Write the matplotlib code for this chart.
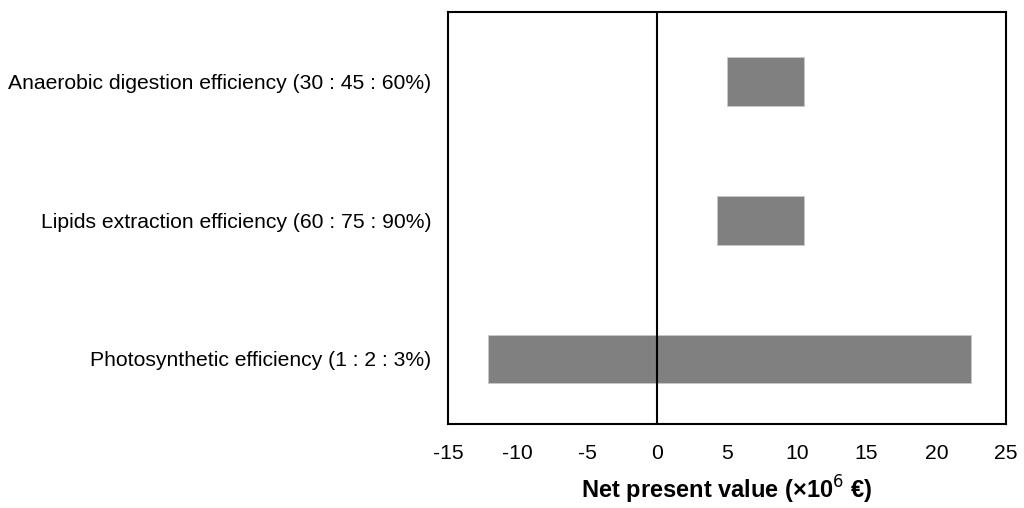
import matplotlib.pyplot as plt

plt.rcParams['font.family'] = ['Liberation Sans', 'DejaVu Sans']

# Tornado chart data (NPV in 10^6 EUR)
labels = ['Photosynthetic efficiency (1 : 2 : 3%)',
          'Lipids extraction efficiency (60 : 75 : 90%)',
          'Anaerobic digestion efficiency (30 : 45 : 60%)']
npv_low = [-12.1, 4.3, 5.0]
npv_high = [22.5, 10.5, 10.5]
xticks = [-15, -10, -5, 0, 5, 10, 15, 20, 25]

fig = plt.figure(figsize=(10.24, 5.08), dpi=100)
ax = fig.add_axes([0.4375, 0.165, 0.545, 0.811])

widths = [h - l for l, h in zip(npv_low, npv_high)]
ax.barh(range(len(labels)), widths, left=npv_low, height=0.35,
        color='#808080', edgecolor='#c8c8c8', linewidth=0.6)

# zero line
ax.axvline(0, color='black', linewidth=1.5)

ax.set_xlim(-15, 25)
ax.set_ylim(-0.47, 2.5)
ax.set_xticks(xticks)
ax.set_xticklabels([str(t) for t in xticks])
ax.set_yticks(range(len(labels)))
ax.set_yticklabels(labels)
ax.tick_params(axis='y', length=0, labelsize=15.2, pad=12)
ax.tick_params(axis='x', length=0, labelsize=15.2, pad=14)

for sp in ax.spines.values():
    sp.set_linewidth(1.5)

ax.set_xlabel('Net present value (×10$^6$ €)', fontsize=17,
              fontweight='bold', labelpad=8)

fig.savefig('out.png', dpi=100)
